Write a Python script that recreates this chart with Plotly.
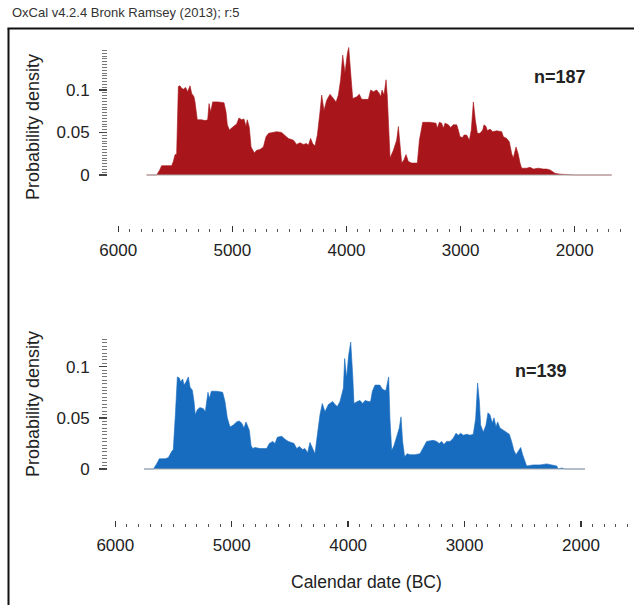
import plotly.graph_objects as go

# ---------------- data (calendar years BC, summed probability density) -------------
top_years = [5751, 5663, 5640, 5619, 5532, 5517, 5502, 5488, 5473, 5459, 5444, 5429, 5409, 5391,
             5371, 5356, 5336, 5327, 5307, 5269, 5239, 5216, 5204, 5190, 5172, 5123, 5073, 5055,
             5044, 5026, 4991, 4962, 4942, 4918, 4898, 4880, 4869, 4851, 4836, 4822, 4807, 4787,
             4758, 4728, 4705, 4682, 4641, 4611, 4568, 4544, 4509, 4465, 4436, 4407, 4378, 4349,
             4334, 4314, 4296, 4276, 4255, 4232, 4217, 4197, 4173, 4144,
             4115, 4091, 4071, 4051, 4033, 4013, 3992, 3980, 3963, 3945, 3910, 3887, 3867, 3808,
             3788, 3764, 3735, 3712, 3700, 3688, 3671, 3653, 3642, 3630, 3618, 3589, 3560, 3545,
             3531, 3516, 3496, 3478, 3458, 3428, 3379, 3361, 3332, 3268, 3215, 3204, 3186, 3166,
             3151, 3136, 3107, 3087, 3063, 3034, 3020, 3005, 2982, 2970, 2947, 2923, 2906, 2888,
             2871, 2853, 2830, 2806, 2795, 2777, 2765, 2742, 2719, 2684, 2640, 2625, 2596, 2573,
             2552, 2538, 2514, 2494, 2479, 2465, 2421, 2392, 2362, 2319, 2275, 2246, 2216, 2173,
             2129, 2070, 2012, 1676]
top_density = [0, 0, 0.005, 0.011, 0.011, 0.016, 0.024, 0.024, 0.104, 0.105, 0.102, 0.101, 0.103, 0.098,
               0.105, 0.096, 0.092, 0.086, 0.065, 0.065, 0.064, 0.065, 0.084, 0.074, 0.086, 0.086, 0.085, 0.074,
               0.059, 0.053, 0.057, 0.060, 0.067, 0.065, 0.066, 0.057, 0.065, 0.056, 0.033, 0.029, 0.026, 0.029,
               0.030, 0.033, 0.045, 0.049, 0.050, 0.051, 0.050, 0.047, 0.043, 0.041, 0.036, 0.038, 0.036, 0.037,
               0.035, 0.043, 0.037, 0.034, 0.047, 0.074, 0.094, 0.076, 0.088, 0.095,
               0.090, 0.086, 0.094, 0.112, 0.141, 0.120, 0.143, 0.150, 0.120, 0.090, 0.092, 0.095, 0.089, 0.089,
               0.100, 0.098, 0.100, 0.096, 0.092, 0.100, 0.094, 0.112, 0.092, 0.045, 0.020, 0.029, 0.041, 0.057,
               0.033, 0.014, 0.018, 0.024, 0.016, 0.014, 0.014, 0.041, 0.062, 0.062, 0.061, 0.055, 0.062, 0.061,
               0.055, 0.061, 0.059, 0.056, 0.059, 0.059, 0.053, 0.045, 0.044, 0.047, 0.047, 0.041, 0.053, 0.086,
               0.065, 0.049, 0.049, 0.053, 0.059, 0.057, 0.052, 0.054, 0.051, 0.052, 0.051, 0.045, 0.043, 0.039,
               0.025, 0.020, 0.033, 0.024, 0.014, 0.008, 0.008, 0.009, 0.007, 0.008, 0.007, 0.007, 0.006, 0.002,
               0.001, 0.0005, 0, 0]

bottom_years = [5753, 5673, 5645, 5622, 5573, 5545, 5516, 5502, 5484, 5467, 5450, 5439, 5421, 5410,
                5393, 5373, 5358, 5338, 5324, 5313, 5295, 5273, 5244, 5227, 5215, 5204, 5192, 5175,
                5129, 5078, 5058, 5038, 5015, 4986, 4958, 4937, 4915, 4895, 4877, 4866, 4849, 4834,
                4820, 4800, 4757, 4700, 4677, 4648, 4628, 4608, 4571, 4542, 4514, 4465, 4442, 4419,
                4391, 4371, 4348, 4328, 4308, 4285, 4265, 4242, 4222, 4199, 4170, 4156,
                4133, 4113, 4093, 4070, 4056, 4041, 4030, 4013, 3996, 3978, 3961, 3950, 3921, 3898,
                3875, 3855, 3827, 3807, 3792, 3769, 3727, 3712, 3692, 3675, 3663, 3652, 3641, 3626,
                3606, 3583, 3561, 3546, 3532, 3515, 3492, 3469, 3426, 3383, 3360, 3326, 3268, 3240,
                3217, 3197, 3177, 3154, 3125, 3097, 3074, 3054, 3034, 3011, 2982, 2953, 2925, 2905,
                2888, 2873, 2862, 2839, 2816, 2799, 2782, 2762, 2747, 2730, 2716, 2696, 2667, 2639,
                2616, 2596, 2576, 2558, 2538, 2518, 2501, 2481, 2467, 2410, 2352, 2295, 2238, 2209,
                2195, 2166, 2138, 1966]
bottom_density = [0, 0, 0.005, 0.010, 0.010, 0.011, 0.017, 0.019, 0.053, 0.090, 0.089, 0.085, 0.088, 0.082,
                  0.085, 0.090, 0.080, 0.077, 0.066, 0.053, 0.058, 0.060, 0.059, 0.056, 0.066, 0.075, 0.069, 0.076,
                  0.076, 0.075, 0.066, 0.050, 0.041, 0.043, 0.046, 0.047, 0.045, 0.040, 0.046, 0.043, 0.038, 0.023,
                  0.020, 0.021, 0.020, 0.020, 0.025, 0.027, 0.025, 0.031, 0.032, 0.029, 0.027, 0.025, 0.020, 0.022,
                  0.019, 0.020, 0.016, 0.026, 0.020, 0.015, 0.033, 0.053, 0.064, 0.056, 0.063, 0.064,
                  0.066, 0.063, 0.061, 0.066, 0.074, 0.079, 0.108, 0.089, 0.111, 0.124, 0.092, 0.064, 0.066, 0.067,
                  0.064, 0.067, 0.066, 0.066, 0.076, 0.082, 0.082, 0.079, 0.077, 0.077, 0.084, 0.090, 0.049, 0.018,
                  0.023, 0.033, 0.040, 0.051, 0.027, 0.012, 0.015, 0.014, 0.014, 0.015, 0.020, 0.027, 0.028, 0.027,
                  0.025, 0.027, 0.024, 0.027, 0.027, 0.030, 0.035, 0.033, 0.035, 0.033, 0.034, 0.033, 0.034, 0.049,
                  0.084, 0.066, 0.043, 0.036, 0.043, 0.055, 0.053, 0.045, 0.050, 0.041, 0.046, 0.040, 0.038, 0.036,
                  0.034, 0.027, 0.018, 0.014, 0.018, 0.021, 0.014, 0.006, 0.003, 0.004, 0.004, 0.005, 0.004, 0.003,
                  0.0, 0.001, 0.0, 0]

top_label = "n=187"
bottom_label = "n=139"
x_tick_years = [6000, 5000, 4000, 3000, 2000]
x_tick_labels = ["6000", "5000", "4000", "3000", "2000"]
x_minor_years = [6100 - 100 * i for i in range(46)]  # 6100 ... 1600
y_tick_vals = [0, 0.05, 0.1]
y_tick_labels = ["0", "0.05", "0.1"]

RED = "#a8151b"
BLUE = "#176cbf"
FONT = "Liberation Sans, Arial, sans-serif"

W, H = 634, 605


def px(x):
    return x / W


def py(y):
    return 1 - y / H


fig = go.Figure()

panels = [
    (top_years, top_density, RED, "x", "y"),
    (bottom_years, bottom_density, BLUE, "x2", "y2"),
]
for yrs, dens, col, xa, ya in panels:
    fig.add_trace(go.Scatter(x=yrs, y=dens, mode="lines", fill="tozeroy", fillcolor=col,
                             line=dict(color=col, width=0.6), xaxis=xa, yaxis=ya,
                             hoverinfo="skip", showlegend=False))
    fig.add_trace(go.Scatter(x=[yrs[0], yrs[-1]], y=[0, 0], mode="lines",
                             line=dict(color="#aaaaaa", width=1), xaxis=xa, yaxis=ya,
                             hoverinfo="skip", showlegend=False))

tickfont = dict(family=FONT, size=17, color="#222")


def xaxis_cfg(rng, anchor):
    return dict(domain=[px(108), px(630)], range=rng, anchor=anchor, automargin=False,
                showgrid=False, zeroline=False, showline=False, fixedrange=True,
                tickmode="array", tickvals=x_tick_years, ticktext=x_tick_labels,
                ticks="inside", ticklen=6, tickwidth=1.3, tickcolor="#333",
                minor=dict(tickmode="array", tickvals=x_minor_years, ticks="inside",
                           ticklen=3, tickwidth=1, tickcolor="#555"),
                tickfont=tickfont, ticklabelstandoff=6)


def yaxis_cfg(dom, rng, anchor, minor_top):
    n = int(round(minor_top / (0.05 / 15)))
    return dict(domain=dom, range=rng, anchor=anchor, automargin=False,
                showgrid=False, zeroline=False, showline=False, fixedrange=True,
                tickmode="array", tickvals=y_tick_vals, ticktext=y_tick_labels,
                ticks="outside", ticklen=8, tickwidth=1.3, tickcolor="#444",
                minor=dict(tickmode="array", tickvals=[i * 0.05 / 15 for i in range(n + 1)],
                           ticks="outside", ticklen=5, tickwidth=1, tickcolor="#777"),
                tickfont=tickfont, ticklabelstandoff=6)


fig.update_layout(
    width=W, height=H,
    margin=dict(l=0, r=0, t=0, b=0, pad=0, autoexpand=False),
    paper_bgcolor="white", plot_bgcolor="rgba(0,0,0,0)",
    font=dict(family=FONT, color="#222"),
    xaxis=xaxis_cfg([6089.4, 1515.5], "y"),
    yaxis=yaxis_cfg([py(232), py(45)], [-0.06706, 0.15294], "x", 0.146),
    xaxis2=xaxis_cfg([6062.7, 1579.1], "y2"),
    yaxis2=yaxis_cfg([py(527), py(335)], [-0.05670, 0.13099], "x2", 0.125),
    showlegend=False,
    hovermode=False,
)

# frame: left and top edges (right/bottom run off the picture)
fig.add_shape(type="line", xref="paper", yref="paper", x0=px(8.5), y0=-0.02, x1=px(8.5), y1=py(28.5),
              line=dict(color="#111", width=2), layer="above")
fig.add_shape(type="line", xref="paper", yref="paper", x0=px(7.5), y0=py(28.5), x1=1.02, y1=py(28.5),
              line=dict(color="#111", width=2), layer="above")

ann = []
ann.append(dict(text="OxCal v4.2.4 Bronk Ramsey (2013); r:5", x=px(10), y=py(12.5), xanchor="left",
                yanchor="middle", font=dict(size=13, color="#333", family=FONT)))
for yc in (127, 404):
    ann.append(dict(text="Probability density", x=px(33), y=py(yc), textangle=-90,
                    xanchor="center", yanchor="middle", font=dict(size=18, color="#222", family=FONT)))
ann.append(dict(text="<b>" + top_label + "</b>", x=px(560), y=py(77), xanchor="center", yanchor="middle",
                font=dict(size=18, color="#222", family=FONT)))
ann.append(dict(text="<b>" + bottom_label + "</b>", x=px(541), y=py(371), xanchor="center", yanchor="middle",
                font=dict(size=18, color="#222", family=FONT)))
ann.append(dict(text="Calendar date (BC)", x=px(366), y=py(582), xanchor="center", yanchor="middle",
                font=dict(size=17.5, color="#222", family=FONT)))
for a in ann:
    a.update(xref="paper", yref="paper", showarrow=False)
fig.update_layout(annotations=ann)

fig.write_html("out.html", config={"displayModeBar": False, "staticPlot": True},
               post_script="document.body.style.margin='0';document.body.style.overflow='hidden';")
